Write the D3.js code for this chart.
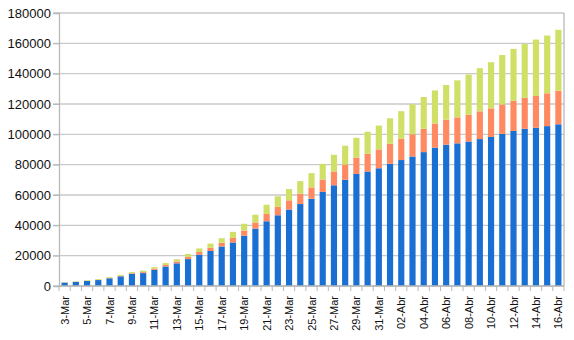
<!DOCTYPE html>
<html><head><meta charset="utf-8">
<script src="https://cdn.jsdelivr.net/npm/d3@7"></script>
<style>body{margin:0;background:#fff}svg{display:block}</style>
</head><body><svg id="c" width="574" height="340"></svg>
<script>
const dates = ["3-Mar","4-Mar","5-Mar","6-Mar","7-Mar","8-Mar","9-Mar","10-Mar","11-Mar","12-Mar","13-Mar","14-Mar","15-Mar","16-Mar","17-Mar","18-Mar","19-Mar","20-Mar","21-Mar","22-Mar","23-Mar","24-Mar","25-Mar","26-Mar","27-Mar","28-Mar","29-Mar","30-Mar","31-Mar","01-Abr","02-Abr","03-Abr","04-Abr","05-Abr","06-Abr","07-Abr","08-Abr","09-Abr","10-Abr","11-Abr","12-Abr","13-Abr","14-Abr","15-Abr","16-Abr"];
const active = [2263,2706,3296,3916,5061,6387,7985,8514,10590,12839,14955,17750,20603,23073,26062,28710,33190,37860,42681,46638,50418,54030,57521,62013,66414,70065,73880,75528,77635,80572,83049,85388,88274,91246,93187,94067,95262,96877,98273,100269,102253,103616,104291,105418,106607];
const deaths = [79,107,148,197,233,366,463,631,827,1016,1266,1441,1809,2158,2503,2978,3405,4032,4825,5476,6077,6820,7503,8165,9134,10023,10779,11591,12428,13155,13915,14681,15362,15887,16523,17127,17669,18279,18849,19468,19899,20465,21067,21645,22170];
const recovered = [160,276,414,523,589,622,724,1004,1045,1258,1439,1966,2335,2749,2941,4025,4440,5129,6072,7024,7432,8326,9362,10361,10950,12384,13030,14620,15729,16847,18278,19758,20996,21815,22837,24392,26491,28470,30455,32534,34211,35435,37130,38092,40164];
const yTicks = [0,20000,40000,60000,80000,100000,120000,140000,160000,180000];
const seriesKeys = ["active","deaths","recovered"];
const colors = ["#1a6fd3","#ff8a62","#d0e067"];

const rows = dates.map((d,i)=>({date:d,active:active[i],deaths:deaths[i],recovered:recovered[i]}));
const stack = d3.stack().keys(seriesKeys)(rows);

const svg = d3.select("#c");
const m = {l:59,r:10,t:13,b:54};
const W = 574, H = 340;
const x = d3.scaleBand().domain(dates).range([m.l, W-m.r]).paddingInner(0.45).paddingOuter(0.225);
const y = d3.scaleLinear().domain([0,180000]).range([H-m.b, m.t]);

// grid
svg.append("g").selectAll("line").data(yTicks).join("line")
  .attr("x1", m.l-6).attr("x2", W-m.r)
  .attr("y1", d=>y(d)).attr("y2", d=>y(d))
  .attr("stroke","#c9c9c9").attr("stroke-width",1.3);
// right border
svg.append("line").attr("x1",W-m.r).attr("x2",W-m.r).attr("y1",m.t).attr("y2",H-m.b)
  .attr("stroke","#b8b8b8").attr("stroke-width",1.3);

// bars
svg.append("g").selectAll("g").data(stack).join("g")
  .attr("fill",(d,i)=>colors[i])
  .selectAll("rect").data(d=>d).join("rect")
  .attr("x", d=>x(d.data.date))
  .attr("width", x.bandwidth())
  .attr("y", d=>y(d[1]))
  .attr("height", d=>Math.max(0,y(d[0])-y(d[1])));

// y axis
const ya = svg.append("g").attr("transform",`translate(${m.l},0)`)
  .call(d3.axisLeft(y).tickValues(yTicks).tickFormat(d3.format("d")).tickSize(6).tickPadding(2));
ya.select(".domain").attr("stroke","#b8b8b8").attr("stroke-width",1.3);
ya.selectAll(".tick line").attr("stroke","#b8b8b8");
ya.selectAll("text").attr("font-family","Liberation Sans, Arial, sans-serif").attr("font-size",13).attr("fill","#111");

// x axis
const step = x.step();
const xa = svg.append("g").attr("transform",`translate(0,${H-m.b})`);
xa.append("line").attr("x1",m.l).attr("x2",W-m.r).attr("y1",0).attr("y2",0).attr("stroke","#b8b8b8").attr("stroke-width",1.3);
xa.selectAll("line.tk").data(d3.range(dates.length+1)).join("line").attr("class","tk")
  .attr("x1",i=>m.l+i*step).attr("x2",i=>m.l+i*step).attr("y1",0).attr("y2",5)
  .attr("stroke","#b8b8b8");
xa.selectAll("text").data(dates.filter((d,i)=>i%2===0)).join("text")
  .attr("transform",d=>`translate(${x(d)+x.bandwidth()/2+4},10) rotate(-90)`)
  .attr("text-anchor","end")
  .attr("font-family","Liberation Sans, Arial, sans-serif").attr("font-size",11).attr("fill","#111")
  .text(d=>d);
</script></body></html>
